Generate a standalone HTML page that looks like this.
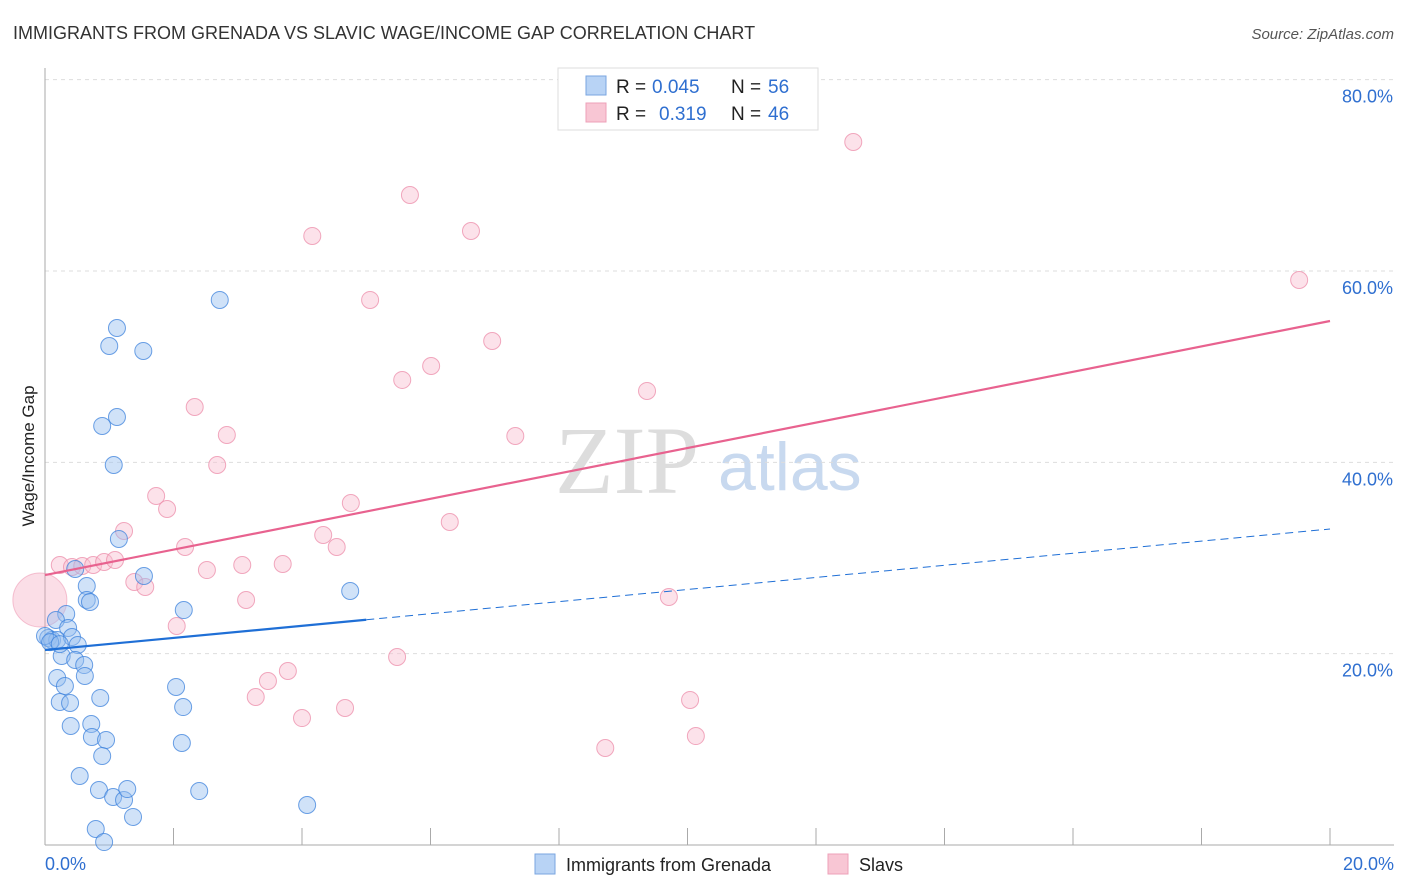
<!DOCTYPE html>
<html><head><meta charset="utf-8"><style>
body{margin:0;background:#fff;font-family:"Liberation Sans",sans-serif}
svg{display:block}
</style></head><body>
<svg width="1406" height="892" id="chart">
<text x="13" y="39" font-size="18" fill="#333">IMMIGRANTS FROM GRENADA VS SLAVIC WAGE/INCOME GAP CORRELATION CHART</text>
<text x="1394" y="39" font-size="15" fill="#555" text-anchor="end" font-style="italic">Source: ZipAtlas.com</text>
<text x="34" y="456" font-size="17" fill="#222" text-anchor="middle" transform="rotate(-90 34 456)">Wage/Income Gap</text>
<text x="555" y="493" font-size="96" fill="#ddd" font-family="Liberation Serif,serif">ZIP</text>
<text x="718" y="490" font-size="68" fill="#c8d9ef">atlas</text>
<g id="grid"></g><g id="marks"></g>
<g>
<rect x="558" y="68" width="260" height="62" fill="#fff" stroke="#ddd"/>
<rect x="586" y="76" width="20" height="19" fill="#b8d3f5" stroke="#7aa6e0"/>
<rect x="586" y="103" width="20" height="19" fill="#f8c6d4" stroke="#eea0b8"/>
<text y="93" font-size="19" fill="#222"><tspan x="616">R =</tspan><tspan x="652" fill="#2f6fd0">0.045</tspan><tspan x="731">N =</tspan><tspan x="768" fill="#2f6fd0">56</tspan></text>
<text y="120" font-size="19" fill="#222"><tspan x="616">R =</tspan><tspan x="659" fill="#2f6fd0">0.319</tspan><tspan x="731">N =</tspan><tspan x="768" fill="#2f6fd0">46</tspan></text>
</g>
<g>
<rect x="535" y="854" width="20" height="20" fill="#b8d3f5" stroke="#7aa6e0"/>
<text x="566" y="871" font-size="18" fill="#222">Immigrants from Grenada</text>
<rect x="828" y="854" width="20" height="20" fill="#f8c6d4" stroke="#eea0b8"/>
<text x="859" y="871" font-size="18" fill="#222">Slavs</text>
</g>
</svg>
<script>
const xTicks=[0,20];
const yTicks=[20,40,60,80];
const blueX=[2.72,1.12,1.00,1.53,1.12,0.89,1.07,1.15,1.54,0.47,0.65,0.65,0.70,0.33,2.16,4.75,0.17,0.36,0.05,0.11,0.19,0.0,0.42,0.51,0.26,0.47,0.61,0.62,0.19,0.31,0.86,0.23,0.39,2.04,2.15,0.72,0.40,0.73,0.95,2.13,0.89,0.54,0.84,1.06,1.23,1.28,2.40,4.08,0.79,1.37,0.92,0.08,0.23];
const blueY=[56.97,54.04,52.16,51.64,44.74,43.80,39.72,31.99,28.12,28.85,27.07,25.61,25.40,24.15,24.56,26.55,23.52,22.68,21.64,21.43,21.43,21.85,21.74,20.91,19.76,19.34,18.81,17.67,17.46,16.62,15.37,14.95,14.84,16.52,14.42,12.65,12.44,11.29,10.98,10.66,9.30,7.21,5.75,5.02,4.70,5.85,5.64,4.18,1.67,2.93,0.31,21.2,21.0];
const pinkX=[12.58,5.68,4.16,6.63,19.52,5.06,6.96,5.56,6.01,9.37,2.33,2.83,7.32,2.68,1.73,1.90,4.76,6.30,1.23,4.33,2.18,4.54,0.23,0.42,0.58,0.75,0.92,1.09,3.07,3.70,2.52,1.39,1.56,3.13,9.71,2.05,5.48,3.78,3.47,3.28,10.04,4.00,4.67,10.13,8.72];
const pinkY=[73.48,67.94,63.66,64.18,59.06,56.97,52.68,48.61,50.07,47.46,45.78,42.86,42.75,39.72,36.48,35.12,35.75,33.76,32.82,32.40,31.15,31.15,29.27,29.06,29.16,29.27,29.58,29.79,29.27,29.37,28.74,27.49,26.97,25.61,25.92,22.89,19.65,18.19,17.14,15.47,15.16,13.27,14.32,11.39,10.14];
const bigPink=[-0.08,25.61];
const pinkTrend=[28.22,54.77];
const blueTrend=[20.38,33.03];
const blueSolidEnd=5.0;
const X=v=>45+v*64.25, Y=v=>845-v*9.567;
const NS="http://www.w3.org/2000/svg";
function mk(t,a,p){const e=document.createElementNS(NS,t);for(const k in a)e.setAttribute(k,a[k]);p.appendChild(e);return e;}
const grid=document.getElementById('grid'), marks=document.getElementById('marks');
yTicks.forEach(t=>{
 const l=mk('line',{x1:45,x2:1394,y1:Y(t),y2:Y(t),stroke:'#ddd','stroke-dasharray':'4,4'},grid);
 
 
 const tx=mk('text',{x:1393,y:Y(t)+23,'font-size':18,fill:'#2f6fd0','text-anchor':'end'},grid);
 tx.textContent=t.toFixed(1)+'%';
 
 
});
const ax=mk('line',{x1:45,x2:45,y1:68,y2:845,stroke:'#aaa'},grid);


const bx=mk('line',{x1:45,x2:1394,y1:845,y2:845,stroke:'#aaa'},grid);


for(let i=1;i<=10;i++){const l=mk('line',{x1:X(i*2),x2:X(i*2),y1:828,y2:845,stroke:'#aaa'},grid);
 
 }
xTicks.forEach((t,i)=>{const tx=mk('text',{x:i?1394:45,y:870,'font-size':18,fill:'#2f6fd0','text-anchor':i?'end':'start'},grid);
 tx.textContent=t.toFixed(1)+'%';
 
 });
const bp=mk('circle',{cx:X(bigPink[0]),cy:Y(bigPink[1]),r:27,fill:'rgba(244,160,185,0.35)',stroke:'rgba(236,140,170,0.5)'},marks);


pinkX.forEach((x,i)=>{const c=mk('circle',{cx:X(x),cy:Y(pinkY[i]),r:8.5,fill:'rgba(248,190,208,0.45)',stroke:'rgba(236,140,170,0.75)'},marks);
 
 });
blueX.forEach((x,i)=>{const c=mk('circle',{cx:X(x),cy:Y(blueY[i]),r:8.5,fill:'rgba(150,190,240,0.45)',stroke:'rgba(60,130,220,0.75)'},marks);
 
 });
const bt=v=>blueTrend[0]+(blueTrend[1]-blueTrend[0])*v/20;
const l1=mk('line',{x1:X(0),y1:Y(pinkTrend[0]),x2:X(20),y2:Y(pinkTrend[1]),stroke:'#e8628f','stroke-width':2.2},marks);


const l2=mk('line',{x1:X(0),y1:Y(bt(0)),x2:X(blueSolidEnd),y2:Y(bt(blueSolidEnd)),stroke:'#1f6fd6','stroke-width':2.2},marks);


const l3=mk('line',{x1:X(blueSolidEnd),y1:Y(bt(blueSolidEnd)),x2:X(20),y2:Y(bt(20)),stroke:'#1f6fd6','stroke-width':1,'stroke-dasharray':'8,5'},marks);


</script>
</body></html>
